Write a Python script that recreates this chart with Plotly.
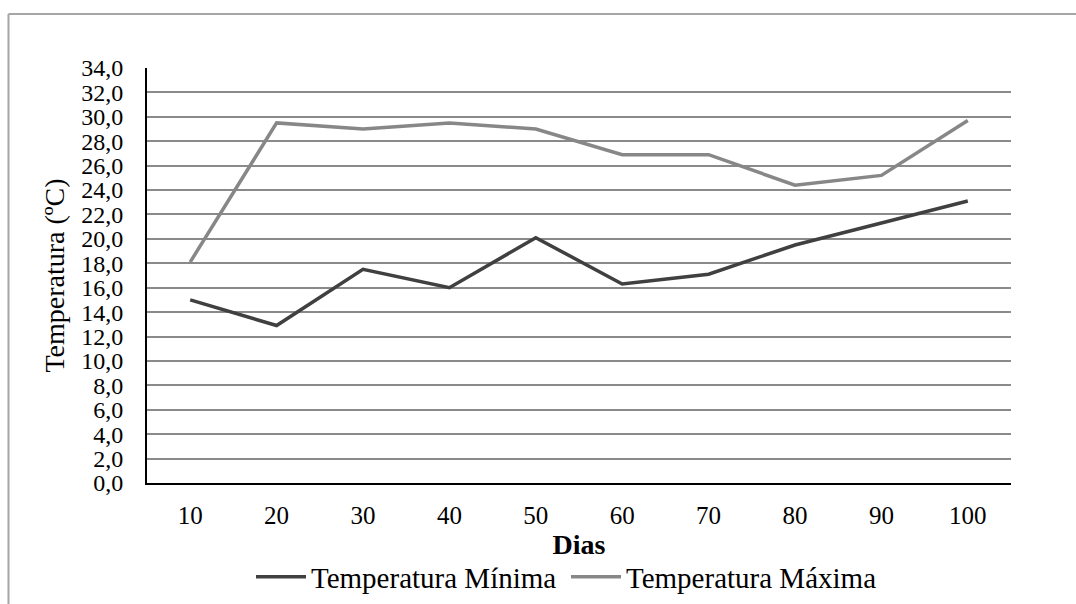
import plotly.graph_objects as go

# Daily temperature series (ºC) sampled every 10 days
dias = ["10", "20", "30", "40", "50", "60", "70", "80", "90", "100"]
temp_minima = [15.0, 12.9, 17.5, 16.0, 20.1, 16.3, 17.1, 19.5, 21.3, 23.1]
temp_maxima = [18.1, 29.5, 29.0, 29.5, 29.0, 26.9, 26.9, 24.4, 25.2, 29.7]
y_ticks = [v * 2 for v in range(18)]

FONT = "Liberation Serif, Times New Roman, serif"

W, H = 1076, 604
L, R, T, B = 147, 1011, 68, 483  # plot area in pixels

fig = go.Figure()
fig.add_trace(go.Scatter(
    x=dias, y=temp_minima, mode="lines", name="Temperatura Mínima",
    line=dict(color="#404040", width=3.5),
))
fig.add_trace(go.Scatter(
    x=dias, y=temp_maxima, mode="lines", name="Temperatura Máxima",
    line=dict(color="#878787", width=3.5),
))

def px_x(px):
    return (px - L) / (R - L)

def px_y(py):
    return (B - py) / (B - T)

# outer chart frame (runs off the right and bottom of the page)
frame = dict(color="#a6a6a6", width=2)
fig.add_shape(type="line", xref="paper", yref="paper",
              x0=px_x(8.5), x1=px_x(8.5), y0=px_y(14), y1=px_y(640), line=frame)
fig.add_shape(type="line", xref="paper", yref="paper",
              x0=px_x(8.5), x1=px_x(1100), y0=px_y(14), y1=px_y(14), line=frame)

fig.update_layout(
    width=W, height=H,
    margin=dict(l=L, r=W - R, t=T, b=H - B, pad=0, autoexpand=False),
    paper_bgcolor="white", plot_bgcolor="white",
    separators=",.",
    font=dict(family=FONT, color="#000000", size=24),
    showlegend=True,
    legend=dict(
        orientation="h", x=px_x(566), xanchor="center",
        y=px_y(577), yanchor="middle",
        font=dict(family=FONT, size=29, color="#000000"),
        itemwidth=50, tracegroupgap=0, bgcolor="rgba(0,0,0,0)",
        entrywidth=250, entrywidthmode="pixels",
    ),
    xaxis=dict(
        type="category", range=[-0.5, 9.5],
        showgrid=False, showline=True, linecolor="#000000", linewidth=2,
        ticks="", ticklabelstandoff=9,
        tickfont=dict(family=FONT, size=25, color="#000000"),
        title=dict(text="<b>Dias</b>", font=dict(family=FONT, size=28, color="#000000"),
                   standoff=6),
        zeroline=False,
    ),
    yaxis=dict(
        range=[0, 34], tickvals=y_ticks, tickformat=".1f",
        showgrid=True, gridcolor="#8a8a8a", gridwidth=1.5,
        showline=True, linecolor="#000000", linewidth=2,
        ticks="", ticklabelstandoff=17,
        tickfont=dict(family=FONT, size=24, color="#000000"),
        title=dict(text="Temperatura (ºC)", font=dict(family=FONT, size=28, color="#000000"),
                   standoff=8),
        zeroline=False,
    ),
)

fig.write_html("out.html")
